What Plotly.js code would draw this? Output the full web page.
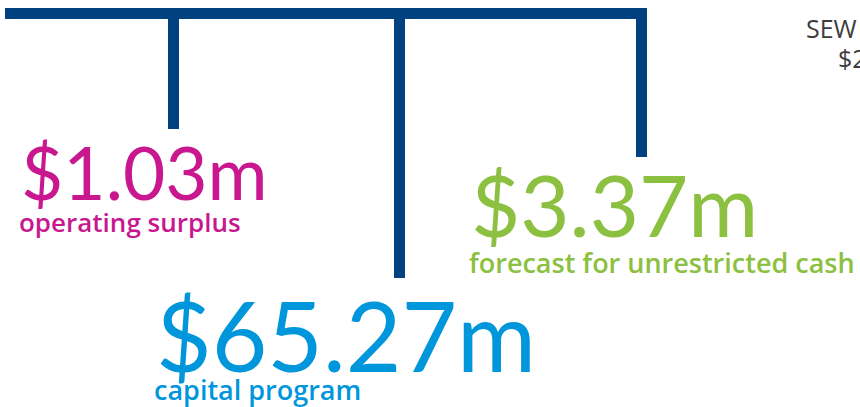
<!DOCTYPE html>
<html>
<head>
<meta charset="utf-8">
<script src="https://cdn.plot.ly/plotly-3.0.1.min.js"></script>
<style>
  html, body { margin: 0; padding: 0; background: #fff; }
  #chart { width: 860px; height: 407px; }
</style>
</head>
<body>
<div id="chart"></div>
<script>
// figures shown on the tree
const labels = ['operating surplus', 'capital program', 'forecast for unrestricted cash'];
const values = [1.03, 65.27, 3.37];
const colours = ['#c8178f', '#0096db', '#8cc040'];

// where each branch drops, how far it goes, and where its text sits (pixels)
const dropX = [173.5, 399.5, 641.5];
const dropEnd = [129, 278, 157];
const textX = [20, 155, 470];
const valueBase = [198, 369, 235];
const valueSize = [73, 96, 85];
const labelBase = [231, 398, 271];
const labelSize = [26, 27, 27];

const navy = '#00427f';
const barW = 11;
const bigFont = 'Lato, sans-serif';
const smallFont = '"Open Sans", sans-serif';

const shapes = [{
  type: 'rect', xref: 'x', yref: 'y', x0: 5, x1: dropX[2] + barW / 2, y0: 8, y1: 8 + barW,
  fillcolor: navy, line: {width: 0}
}];
dropX.forEach((x, i) => {
  shapes.push({
    type: 'rect', xref: 'x', yref: 'y', x0: x - barW / 2, x1: x + barW / 2, y0: 8, y1: dropEnd[i],
    fillcolor: navy, line: {width: 0}
  });
});

const annotations = [];
values.forEach((v, i) => {
  annotations.push({
    x: textX[i], y: valueBase[i] - valueSize[i] * 0.36, xref: 'x', yref: 'y',
    xanchor: 'left', yanchor: 'middle', showarrow: false, borderpad: 0,
    text: '$' + v.toFixed(2) + 'm',
    font: {family: bigFont, size: valueSize[i], color: colours[i]}
  });
  annotations.push({
    x: textX[i] - 2, y: labelBase[i] - labelSize[i] * 0.33, xref: 'x', yref: 'y',
    xanchor: 'left', yanchor: 'middle', showarrow: false, borderpad: 0,
    text: labels[i],
    font: {family: smallFont, size: labelSize[i], color: colours[i], weight: 600}
  });
});
// neighbouring panel, cut off at the edge
annotations.push({
  x: 805, y: 37 - 25 * 0.36, xref: 'x', yref: 'y', xanchor: 'left', yanchor: 'middle',
  showarrow: false, borderpad: 0, text: 'SEW',
  font: {family: smallFont, size: 25, color: '#3c3c3c', weight: 500}
});
annotations.push({
  x: 837, y: 67 - 25 * 0.36, xref: 'x', yref: 'y', xanchor: 'left', yanchor: 'middle',
  showarrow: false, borderpad: 0, text: '$2',
  font: {family: smallFont, size: 25, color: '#3c3c3c', weight: 500}
});

Plotly.newPlot('chart', [], {
  width: 860, height: 407,
  margin: {l: 0, r: 0, t: 0, b: 0},
  paper_bgcolor: '#fff', plot_bgcolor: '#fff',
  xaxis: {range: [0, 860], visible: false, fixedrange: true},
  yaxis: {range: [407, 0], visible: false, fixedrange: true},
  shapes: shapes,
  annotations: annotations,
  showlegend: false
}, {displayModeBar: false, staticPlot: true});
</script>
</body>
</html>
